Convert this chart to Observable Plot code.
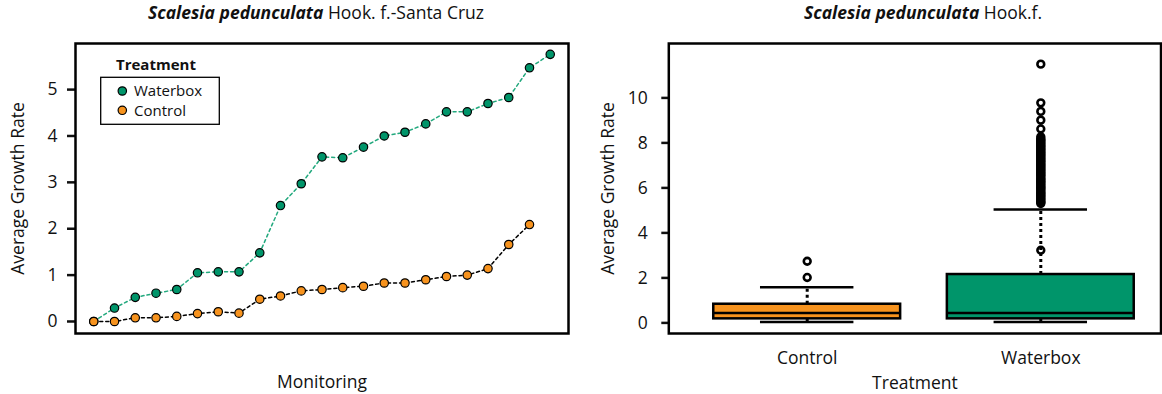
<!DOCTYPE html>
<html><head><meta charset="utf-8">
<script src="https://cdn.jsdelivr.net/npm/d3@7"></script>
<script src="https://cdn.jsdelivr.net/npm/@observablehq/plot@0.6"></script>
<style>
body{margin:0;background:#fff;}
#wrap{display:flex;width:1162px;height:394px;overflow:hidden;}
</style></head><body><div id="wrap"></div>
<script>
// ---- Left panel data ----
const monitoring = [1,2,3,4,5,6,7,8,9,10,11,12,13,14,15,16,17,18,19,20,21,22,23];
const waterbox = [0, 0.29, 0.52, 0.61, 0.69, 1.05, 1.07, 1.07, 1.48, 2.50, 2.97, 3.55, 3.53, 3.76, 4.00, 4.08, 4.26, 4.52, 4.52, 4.70, 4.83, 5.47, 5.76];
const control  = [0, 0, 0.08, 0.08, 0.11, 0.17, 0.21, 0.18, 0.48, 0.55, 0.66, 0.69, 0.73, 0.76, 0.83, 0.83, 0.90, 0.97, 1.00, 1.14, 1.66, 2.09];
const legendSeries = ["Waterbox", "Control"];
const leftTicks = [0, 1, 2, 3, 4, 5];

// ---- Right panel data (boxplot summaries) ----
const categories = ["Control", "Waterbox"];
const whiskerLow  = [0.04, 0.04];
const q1s         = [0.18, 0.18];
const medians     = [0.44, 0.44];
const q3s         = [0.83, 2.15];
const whiskerHigh = [1.59, 5.04];
const controlOutliers = [2.02, 2.74];
const waterboxOutliers = [3.23,
  5.31, 5.36, 5.40, 5.47, 5.52, 5.58, 5.64, 5.69, 5.75, 5.80, 5.86, 5.93, 5.98, 6.03, 6.09, 6.14,
  6.21, 6.26, 6.31, 6.37, 6.42, 6.49, 6.55, 6.60, 6.66, 6.71, 6.77, 6.83, 6.88, 6.94, 7.00, 7.05,
  7.11, 7.17, 7.22, 7.28, 7.33, 7.40, 7.45, 7.51, 7.56, 7.62, 7.68, 7.73, 7.79, 7.85, 7.90, 7.96,
  8.02, 8.08, 8.13, 8.19, 8.27, 8.62, 9.01, 9.40, 9.78, 11.5];
const rightTicks = [0, 2, 4, 6, 8, 10];

const ORANGE = "#F7931E", GREEN = "#00956A", GREEN_LINE = "#23A97E";
const FONT = "'Open Sans', sans-serif";
const FS = 17.5;

const wrap = document.getElementById("wrap");

// ---------- LEFT ----------
const rows = [];
waterbox.forEach((v, i) => rows.push({treatment: "Waterbox", t: monitoring[i], v}));
control.forEach((v, i) => rows.push({treatment: "Control", t: monitoring[i], v}));

const L = {w: 581, h: 394, ml: 75, mr: 13, mt: 43, mb: 61};
const left = Plot.plot({
  width: L.w, height: L.h,
  marginLeft: L.ml, marginRight: L.mr, marginTop: L.mt, marginBottom: L.mb,
  style: {fontFamily: FONT, fontSize: FS + "px", color: "#111", background: "white", overflow: "visible"},
  x: {domain: [0.12, 23.88], axis: null},
  y: {domain: [-0.259, 5.994]},
  color: {domain: legendSeries, range: [GREEN, ORANGE]},
  marks: [
    Plot.axisY(leftTicks, {tickSize: 8, tickPadding: 10, strokeWidth: 2.5, fontSize: FS, label: null, tickFormat: d => String(d)}),
    Plot.line(rows.filter(d => d.treatment === "Waterbox"), {x: "t", y: "v", stroke: GREEN_LINE, strokeWidth: 1.5, strokeDasharray: "3,3"}),
    Plot.line(rows.filter(d => d.treatment === "Control"), {x: "t", y: "v", stroke: "black", strokeWidth: 1.5, strokeDasharray: "3,3"}),
    Plot.dot(rows, {x: "t", y: "v", fill: "treatment", stroke: "black", strokeWidth: 1.2, r: 4.2}),
    Plot.text(["Average Growth Rate"], {frameAnchor: "left", rotate: -90, dx: -56.7, fontSize: FS, lineAnchor: "middle", textAnchor: "middle"}),
    Plot.text(["Monitoring"], {frameAnchor: "bottom", dy: 42.3, fontSize: FS, lineAnchor: "top"}),
    Plot.frame({stroke: "black", strokeWidth: 2.5})
  ]
});
wrap.appendChild(left);

function addTitle(svg, cx, italicPart, rest) {
  const t = d3.select(svg).append("text")
    .attr("x", cx).attr("y", 19)
    .attr("text-anchor", "middle")
    .attr("font-family", FONT).attr("font-size", FS).attr("fill", "#111");
  t.append("tspan").attr("font-weight", "bold").attr("font-style", "italic").text(italicPart);
  t.append("tspan").text(rest);
}
addTitle(left, 316, "Scalesia pedunculata", " Hook. f.-Santa Cruz");

// legend
{
  const g = d3.select(left).append("g").attr("font-family", FONT).attr("fill", "#111").attr("text-anchor", "start");
  g.append("text").attr("x", 116).attr("y", 70).attr("font-weight", "bold").attr("font-size", 15).text("Treatment");
  g.append("rect").attr("x", 100.7).attr("y", 77.3).attr("width", 118.6).attr("height", 47)
    .attr("fill", "white").attr("stroke", "black").attr("stroke-width", 1.3);
  legendSeries.forEach((s, i) => {
    const cy = 91 + i * 19.3;
    g.append("circle").attr("cx", 122.3).attr("cy", cy).attr("r", 4.2)
      .attr("fill", s === "Waterbox" ? GREEN : ORANGE).attr("stroke", "black").attr("stroke-width", 1.2);
    g.append("text").attr("x", 134).attr("y", cy).attr("dy", "0.35em").attr("font-size", 15).text(s);
  });
}

// ---------- RIGHT ----------
const boxes = categories.map((c, i) => ({cat: c, pos: i + 1, lo: whiskerLow[i], q1: q1s[i], med: medians[i], q3: q3s[i], hi: whiskerHigh[i]}));
const outliers = [
  ...controlOutliers.map(v => ({cat: "Control", pos: 1, v})),
  ...waterboxOutliers.map(v => ({cat: "Waterbox", pos: 2, v}))
];
const R = {w: 581, h: 394, ml: 87.3, mr: 1.5, mt: 43, mb: 61};
const right = Plot.plot({
  width: R.w, height: R.h,
  marginLeft: R.ml, marginRight: R.mr, marginTop: R.mt, marginBottom: R.mb,
  style: {fontFamily: FONT, fontSize: FS + "px", color: "#111", background: "white", overflow: "visible"},
  x: {domain: [0.4075, 2.5146]},
  y: {domain: [-0.471, 12.418]},
  color: {domain: categories, range: [ORANGE, GREEN]},
  marks: [
    Plot.axisY(rightTicks, {tickSize: 7, tickPadding: 14, strokeWidth: 2.5, fontSize: FS, label: null, tickFormat: d => String(d)}),
    Plot.axisX([1, 2], {tickSize: 0, tickPadding: 18, fontSize: FS, label: null, tickFormat: d => categories[d - 1]}),
    Plot.ruleX(boxes, {x: "pos", y1: "q3", y2: "hi", stroke: "black", strokeWidth: 3, strokeDasharray: "3,3"}),
    Plot.ruleX(boxes, {x: "pos", y1: "lo", y2: "q1", stroke: "black", strokeWidth: 3, strokeDasharray: "3,3"}),
    Plot.ruleY(boxes, {y: "hi", x1: d => d.pos - 0.2, x2: d => d.pos + 0.2, stroke: "black", strokeWidth: 2.5}),
    Plot.ruleY(boxes, {y: "lo", x1: d => d.pos - 0.2, x2: d => d.pos + 0.2, stroke: "black", strokeWidth: 2.5}),
    Plot.rect(boxes, {x1: d => d.pos - 0.4, x2: d => d.pos + 0.4, y1: "q1", y2: "q3", fill: "cat", stroke: "black", strokeWidth: 2.5}),
    Plot.ruleY(boxes, {y: "med", x1: d => d.pos - 0.4, x2: d => d.pos + 0.4, stroke: "black", strokeWidth: 2.5}),
    Plot.dot(outliers, {x: "pos", y: "v", r: 3.4, stroke: "black", strokeWidth: 2.6, fill: "none"}),
    Plot.text(["Average Growth Rate"], {frameAnchor: "left", rotate: -90, dx: -60.8, fontSize: FS, lineAnchor: "middle", textAnchor: "middle"}),
    Plot.text(["Treatment"], {frameAnchor: "bottom", dy: 43.5, fontSize: FS, lineAnchor: "top"}),
    Plot.frame({stroke: "black", strokeWidth: 2.5})
  ]
});
wrap.appendChild(right);
addTitle(right, 342, "Scalesia pedunculata", " Hook.f.");
</script></body></html>
